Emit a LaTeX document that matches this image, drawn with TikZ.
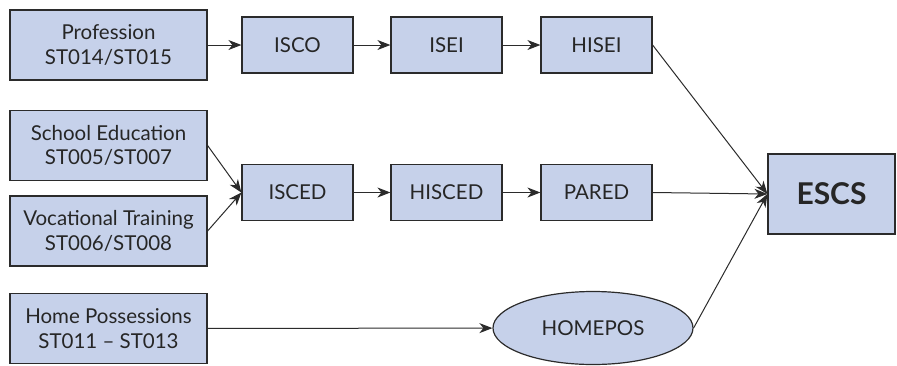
\documentclass[tikz,border=0pt]{standalone}
\usepackage{fontspec}
\setmainfont{Lato}
\usetikzlibrary{shapes.geometric,arrows.meta}
\definecolor{boxfill}{HTML}{C6D1EA}
\definecolor{boxline}{HTML}{2B2B2B}
\definecolor{textgray}{HTML}{262626}
\tikzset{
    var/.style={draw=boxline, line width=1.2pt, fill=boxfill, text=textgray,
        font=\fontsize{20.5}{24.5}\selectfont, align=center, inner sep=0pt},
    srcbox/.style={var, minimum width=197pt, minimum height=70pt},
    midbox/.style={var, minimum width=111pt, minimum height=56pt},
    link/.style={-{Stealth[length=13pt, width=10pt, inset=4pt]}, line width=1pt, draw=boxline}
}
\begin{document}
\begin{tikzpicture}[x=1pt, y=-1pt]
    \useasboundingbox (0,0) rectangle (897,365);

    % sources
    \node[srcbox] (prof) at (108.5,45) {Profession\\ST014/ST015};
    \node[srcbox] (school) at (108.5,145.5) {School Education\\ST005/ST007};
    \node[srcbox] (voc) at (108.5,231) {Vocational Training\\ST006/ST008};
    \node[srcbox] (home) at (108.5,328.5) {Home Possessions\\ST011 -- ST013};

    % derived variables
    \node[midbox] (isco) at (297.5,45) {ISCO};
    \node[midbox] (isei) at (446.5,45) {ISEI};
    \node[midbox] (hisei) at (596.5,45) {HISEI};
    \node[midbox] (isced) at (297.5,192.5) {ISCED};
    \node[midbox] (hisced) at (446.5,192.5) {HISCED};
    \node[midbox] (pared) at (596.5,192.5) {PARED};
    \node[var, ellipse, minimum width=200pt, minimum height=73pt] (homepos) at (593,328) {HOMEPOS};

    \node[var, minimum width=127pt, minimum height=80pt, font=\fontsize{30}{32}\selectfont\bfseries] (escs) at (831.5,194) {ESCS};

    \draw[link] (prof) -- (isco);
    \draw[link] (isco) -- (isei);
    \draw[link] (isei) -- (hisei);
    \draw[link] (school.east) -- (isced.west);
    \draw[link] (voc.east) -- (isced.west);
    \draw[link] (isced) -- (hisced);
    \draw[link] (hisced) -- (pared);
    \draw[link] (home) -- (homepos);
    \draw[link] (hisei.east) -- (escs.west);
    \draw[link] (pared.east) -- (escs.west);
    \draw[link] (homepos.east) -- (escs.west);
\end{tikzpicture}
\end{document}
